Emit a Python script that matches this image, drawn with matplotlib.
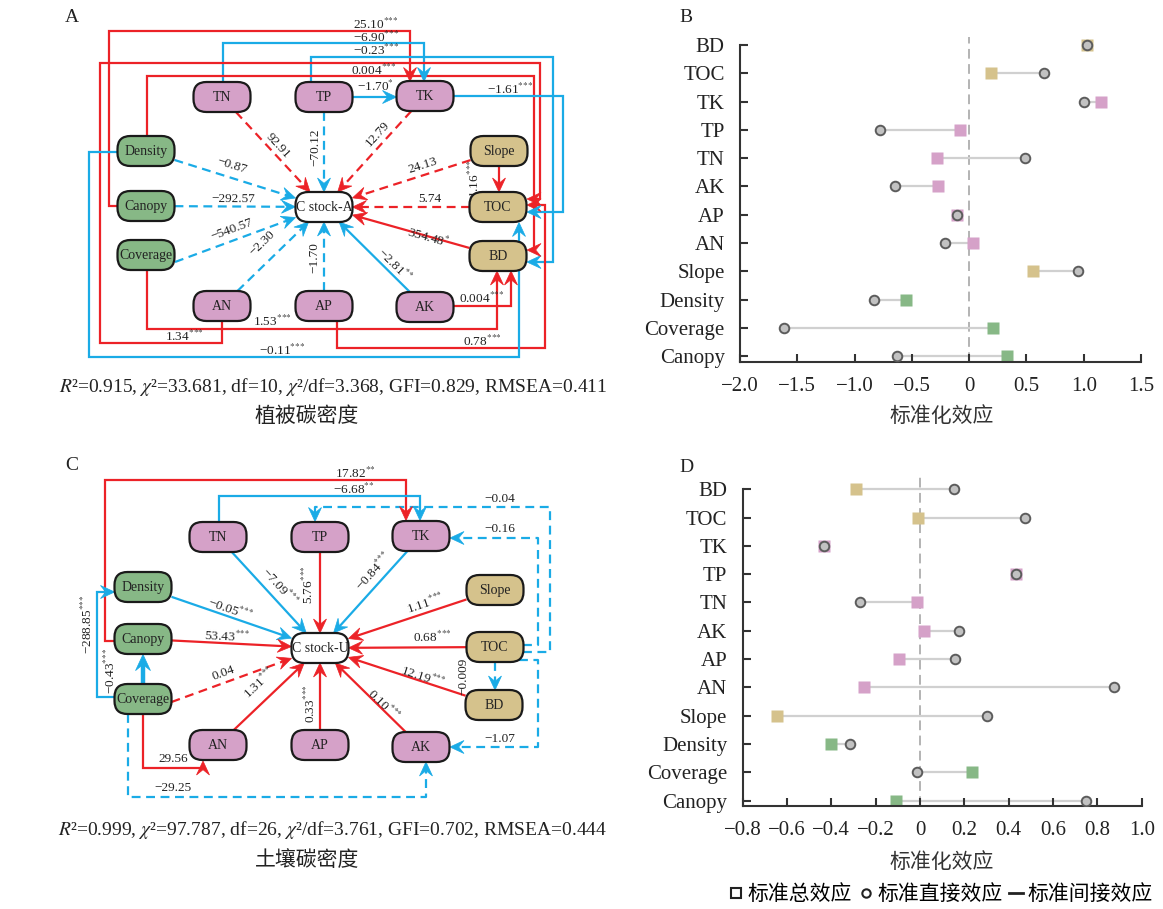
import numpy as np
import matplotlib
matplotlib.use('Agg')
import matplotlib.pyplot as plt
from matplotlib.patches import FancyBboxPatch, Polygon
from matplotlib.lines import Line2D

plt.rcParams['font.family'] = ['Liberation Serif', 'Noto Sans CJK SC']
plt.rcParams['mathtext.fontset'] = 'stix'

# ---------------- data: standardized effects (panels B, D) ----------------
factors = ['BD', 'TOC', 'TK', 'TP', 'TN', 'AK', 'AP', 'AN', 'Slope', 'Density', 'Coverage', 'Canopy']
factor_group = ['soil', 'soil', 'nutr', 'nutr', 'nutr', 'nutr', 'nutr', 'nutr', 'soil', 'veg', 'veg', 'veg']
B_total = [1.03, 0.19, 1.15, -0.08, -0.28, -0.27, -0.11, 0.035, 0.56, -0.55, 0.21, 0.33]
B_direct = [1.03, 0.65, 1.00, -0.78, 0.49, -0.65, -0.11, -0.21, 0.95, -0.83, -1.62, -0.63]
D_total = [-0.29, -0.01, -0.433, 0.433, -0.014, 0.018, -0.095, -0.253, -0.645, -0.40, 0.235, -0.108]
D_direct = [0.155, 0.475, -0.433, 0.433, -0.27, 0.174, 0.158, 0.875, 0.30, -0.316, -0.015, 0.75]
B_xticks = [-2.0, -1.5, -1.0, -0.5, 0, 0.5, 1.0, 1.5]
B_xticklabels = ['−2.0', '−1.5', '−1.0', '−0.5', '0', '0.5', '1.0', '1.5']
D_xticks = [-0.8, -0.6, -0.4, -0.2, 0, 0.2, 0.4, 0.6, 0.8, 1.0]
D_xticklabels = ['−0.8', '−0.6', '−0.4', '−0.2', '0', '0.2', '0.4', '0.6', '0.8', '1.0']
legend_labels = ['标准总效应', '标准直接效应', '标准间接效应']

# ---------------- data: path coefficients (panels A, C) ----------------
A_direct_src = ['TN', 'TP', 'TK', 'Density', 'Canopy', 'Coverage', 'AN', 'AP', 'AK', 'BD', 'TOC', 'Slope']
A_direct_coef = ['92.91', '−70.12', '12.79', '−0.87', '−292.57', '−540.57', '−2.30', '−1.70', '−2.81', '354.48', '5.74', '24.13']
A_direct_sig = ['', '', '', '', '', '', '', '', '**', '*', '', '']
A_other_src = ['Canopy', 'TN', 'TP', 'Density', 'AN', 'Coverage', 'AK', 'AP', 'TK', 'Density', 'TP', 'Slope']
A_other_dst = ['TK', 'TK', 'BD', 'BD', 'TOC', 'BD', 'BD', 'TOC', 'TOC', 'TOC', 'TK', 'TOC']
A_other_coef = ['25.10', '−6.90', '−0.23', '0.004', '1.34', '1.53', '0.004', '0.78', '−1.61', '−0.11', '−1.70', '1.16']
A_other_sig = ['***', '***', '***', '***', '***', '***', '***', '***', '***', '***', '*', '***']
A_other_dashed = [False] * 12
A_fit = r'$R$²=0.915, $\chi$²=33.681, df=10, $\chi$²/df=3.368, GFI=0.829, RMSEA=0.411'
A_title = '植被碳密度'

C_direct_src = ['TN', 'TP', 'TK', 'Density', 'Canopy', 'Coverage', 'AN', 'AP', 'AK', 'BD', 'TOC', 'Slope']
C_direct_coef = ['−7.09', '5.76', '−0.84', '−0.05', '53.43', '0.04', '1.31', '0.33', '0.10', '12.19', '0.68', '1.11']
C_direct_sig = ['***', '***', '***', '***', '***', '', '***', '***', '***', '***', '***', '***']
C_other_src = ['Canopy', 'TN', 'TOC', 'TOC', 'TOC', 'TOC', 'Coverage', 'Coverage', 'Coverage', 'Coverage']
C_other_dst = ['TK', 'TK', 'TP', 'TK', 'AK', 'BD', 'Canopy', 'Density', 'AN', 'AK']
C_other_coef = ['17.82', '−6.68', '−0.04', '−0.16', '−1.07', '−0.009', '−0.43', '−288.85', '29.56', '−29.25']
C_other_sig = ['**', '**', '', '', '', '', '***', '***', '', '']
C_other_dashed = [False, False, True, True, True, True, False, False, False, True]
C_fit = r'$R$²=0.999, $\chi$²=97.787, df=26, $\chi$²/df=3.761, GFI=0.702, RMSEA=0.444'
C_title = '土壤碳密度'

# ---------------- style ----------------
RED = '#ec2227'
BLUE = '#1aabe6'
GCOL = {'soil': '#d5c28c', 'nutr': '#d5a1c8', 'veg': '#87b886'}
NODE_GROUP = {'TN': 'nutr', 'TP': 'nutr', 'TK': 'nutr', 'AN': 'nutr', 'AP': 'nutr', 'AK': 'nutr',
              'Density': 'veg', 'Canopy': 'veg', 'Coverage': 'veg',
              'Slope': 'soil', 'TOC': 'soil', 'BD': 'soil'}
BW, BH = 57, 30
AL, AW = 14, 6.5
DASH = (0, (4, 2.5))
LABEL_FS = 9.5
NODE_FS = 10

fig = plt.figure(figsize=(11.63, 9.09), dpi=100, facecolor='white')
ax0 = fig.add_axes([0, 0, 1, 1])
ax0.set_xlim(0, 1163)
ax0.set_ylim(909, 0)
ax0.axis('off')


def stars(sig):
    if not sig:
        return ''
    return r'$^{' + ''.join('{*}' for _ in sig) + '}$'


def coef_color(coef):
    return RED if float(coef.replace('−', '-')) > 0 else BLUE


def text_angle(d):
    ang = np.degrees(np.arctan2(-d[1], d[0]))
    if ang > 90:
        ang -= 180
    if ang <= -90:
        ang += 180
    return ang


def clip_t(d, w, h):
    tx = (w / 2) / abs(d[0]) if abs(d[0]) > 1e-9 else np.inf
    ty = (h / 2) / abs(d[1]) if abs(d[1]) > 1e-9 else np.inf
    return min(tx, ty)


def arrowhead(ax, tip, u, color, scale=1.0):
    n = np.array([-u[1], u[0]])
    L, W = AL * scale, AW * scale
    pts = [tip, tip - L * u + W * n, tip - 0.62 * L * u, tip - L * u - W * n]
    ax.add_patch(Polygon(pts, closed=True, fc=color, ec=color, lw=0.5, zorder=4))


def poly_edge(ax, pts, color, dashed, lw=1.6, head_scale=1.0):
    pts = np.asarray(pts, float)
    tip, prev = pts[-1], pts[-2]
    u = (tip - prev) / np.linalg.norm(tip - prev)
    lp = pts.copy()
    lp[-1] = tip - u * AL * head_scale * 0.55
    ax.plot(lp[:, 0], lp[:, 1], color=color, lw=lw, ls=DASH if dashed else '-',
            solid_capstyle='butt', solid_joinstyle='miter', zorder=2)
    arrowhead(ax, tip, u, color, head_scale)


def draw_node(ax, xy, label, fc):
    cx, cy = xy
    ax.add_patch(FancyBboxPatch((cx - BW / 2, cy - BH / 2), BW, BH,
                                boxstyle='round,pad=0,rounding_size=13',
                                fc=fc, ec='#1a1a1a', lw=1.6, zorder=5))
    ax.text(cx, cy + 0.5, label, ha='center', va='center', fontsize=NODE_FS, color='#222222', zorder=6)


def draw_sem(ax, pos, center_label, d_src, d_coef, d_sig, d_lab, start_override,
             o_coef, o_sig, o_dashed, o_paths, o_lab, o_rot, o_lw):
    c = np.array(pos['C'], float)
    for src, coef, sig, lab in zip(d_src, d_coef, d_sig, d_lab):
        s = np.array(pos[src], float)
        if src in start_override:
            start = np.array(start_override[src], float)
        else:
            start = s + (c - s) * clip_t(c - s, BW, BH)
        d = c - start
        end = c - d * clip_t(d, BW, BH)
        poly_edge(ax, [start, end], coef_color(coef), sig == '')
        ax.text(lab[0], lab[1], coef + stars(sig), ha='center', va='center', fontsize=LABEL_FS,
                rotation=text_angle(d), rotation_mode='anchor', color='#222222', zorder=3)
    for coef, sig, dsh, path, lab, rot, lw in zip(o_coef, o_sig, o_dashed, o_paths, o_lab, o_rot, o_lw):
        poly_edge(ax, path, coef_color(coef), dsh, lw=lw, head_scale=1.0 if lw < 2 else 1.15)
        ax.text(lab[0], lab[1], coef + stars(sig), ha='center', va='center', fontsize=LABEL_FS,
                rotation=rot, rotation_mode='anchor', color='#222222', zorder=3)
    for name, xy in pos.items():
        if name == 'C':
            draw_node(ax, xy, center_label, 'white')
        else:
            draw_node(ax, xy, name, GCOL[NODE_GROUP[name]])


# ---------------- panel A layout ----------------
A_pos = {'TN': (222, 97), 'TP': (324, 97), 'TK': (425, 96), 'Density': (146, 151), 'Canopy': (146, 206),
         'Coverage': (146, 255), 'AN': (222, 306), 'AP': (324, 306), 'AK': (425, 307),
         'Slope': (499, 151), 'TOC': (498, 207), 'BD': (498, 256), 'C': (324, 207)}
A_dlab = [(278, 146), (315, 147), (378, 134), (232, 166), (233, 199), (232, 230),
          (262, 243), (314, 258), (394, 265), (428, 237), (430, 199), (423, 166)]
A_paths = [
    [(117.5, 206), (109, 206), (109, 31), (410, 31), (410, 81.5)],
    [(223, 82), (223, 43), (424, 43), (424, 81.5)],
    [(311, 82), (311, 57), (553, 57), (553, 262), (527, 262)],
    [(147, 136), (147, 76), (534, 76), (534, 250), (527, 250)],
    [(222, 321), (222, 343), (100, 343), (100, 63), (540, 63), (540, 199), (527, 199)],
    [(147, 270), (147, 329), (497, 329), (497, 271)],
    [(453.5, 306), (511, 306), (511, 271)],
    [(337, 321), (337, 348), (545, 348), (545, 205), (527, 205)],
    [(453.5, 96), (563, 96), (563, 212), (527, 212)],
    [(117.5, 152), (89, 152), (89, 357), (519, 357), (519, 222.5)],
    [(352.5, 97), (396.5, 97)],
    [(499, 166), (499, 192)],
]
A_olab = [(376, 24), (376, 37), (376, 50), (374, 70), (184, 336), (272, 321), (482, 298),
          (482, 341), (510, 89), (282, 350), (375, 86), (474, 179)]
A_orot = [0] * 11 + [90]
A_olw = [1.6] * 12
draw_sem(ax0, A_pos, 'C stock-A', A_direct_src, A_direct_coef, A_direct_sig, A_dlab,
         {'Coverage': (175, 262)}, A_other_coef, A_other_sig, A_other_dashed, A_paths,
         A_olab, A_orot, A_olw)

# ---------------- panel C layout ----------------
C_pos = {'TN': (218, 537), 'TP': (320, 537), 'TK': (421, 536), 'Density': (143, 587), 'Canopy': (143, 639),
         'Coverage': (143, 699), 'AN': (218, 745), 'AP': (320, 745), 'AK': (421, 747),
         'Slope': (495, 590), 'TOC': (495, 647), 'BD': (494, 705), 'C': (320, 648)}
C_dlab = [(279, 587), (308, 585), (374, 571), (230, 609), (227, 637), (223, 673),
          (259, 683), (310, 704), (383, 705), (423, 677), (432, 637), (425, 604)]
C_paths = [
    [(114.5, 641), (105, 641), (105, 480), (406, 480), (406, 520.5)],
    [(219, 522), (219, 496), (420, 496), (420, 520.5)],
    [(523, 652), (550, 652), (550, 507), (315, 507), (315, 521.5)],
    [(523, 645), (538, 645), (538, 538), (450, 538)],
    [(519, 660), (538, 660), (538, 747), (450, 747)],
    [(495, 662), (495, 690)],
    [(143, 684), (143, 654.5)],
    [(114.5, 697), (97, 697), (97, 592), (114.5, 592)],
    [(143, 714), (143, 768), (203, 768), (203, 761)],
    [(128, 714), (128, 797), (426, 797), (426, 762)],
]
C_olab = [(355, 473), (354, 489), (500, 499), (500, 529), (500, 739), (463, 676),
          (110, 671), (87, 624), (173, 759), (173, 788)]
C_orot = [0, 0, 0, 0, 0, 90, 90, 90, 0, 0]
C_olw = [1.6, 1.6, 1.6, 1.6, 1.6, 1.6, 3.2, 1.6, 1.6, 1.6]
draw_sem(ax0, C_pos, 'C stock-U', C_direct_src, C_direct_coef, C_direct_sig, C_dlab,
         {'Coverage': (171.5, 702)}, C_other_coef, C_other_sig, C_other_dashed, C_paths,
         C_olab, C_orot, C_olw)

# ---------------- texts ----------------
ax0.text(333, 387, A_fit, ha='center', va='center', fontsize=14, color='#222222')
ax0.text(307, 417, A_title, ha='center', va='center', fontsize=15, color='#222222')
ax0.text(333, 830, C_fit, ha='center', va='center', fontsize=14, color='#222222')
ax0.text(307, 861, C_title, ha='center', va='center', fontsize=15, color='#222222')
for lx, ly, lt in [(72, 17, 'A'), (686, 17, 'B'), (72, 466, 'C'), (686, 467, 'D')]:
    ax0.text(lx, ly, lt, ha='center', va='center', fontsize=14, color='#222222')
ax0.text(942, 417, '标准化效应', ha='center', va='center', fontsize=15, color='#333333')
ax0.text(942, 863, '标准化效应', ha='center', va='center', fontsize=15, color='#333333')


# ---------------- dot panels ----------------
def dot_panel(ax, total, direct, xlim, xticks, xticklabels, ylo, yhi):
    n = len(factors)
    ypos = np.arange(n)[::-1]
    ax.axvline(0, ymin=0, ymax=1, color='#b3b3b3', lw=1.4, ls=(0, (5, 2.8)), zorder=0)
    for y, t, d, g in zip(ypos, total, direct, factor_group):
        ax.plot([t, d], [y, y], color='#d0d0d0', lw=1.6, zorder=1, solid_capstyle='butt')
        ax.plot(t, y, marker='s', ms=9.2, color=GCOL[g], mec='none', ls='none', zorder=2)
        ax.plot(d, y, marker='o', ms=6.9, mfc='#c2c2c2', mec='#5c5c5c', mew=1.4, ls='none', zorder=3)
    ax.set_xlim(*xlim)
    ax.set_ylim(ylo, yhi)
    ax.set_yticks(ypos)
    ax.set_yticklabels(factors)
    ax.set_xticks(xticks)
    ax.set_xticklabels(xticklabels)
    for s in ['top', 'right']:
        ax.spines[s].set_visible(False)
    for s in ['left', 'bottom']:
        ax.spines[s].set_color('#333333')
        ax.spines[s].set_linewidth(1.5)
    ax.spines['left'].set_bounds(ylo, n - 1)
    ax.tick_params(axis='both', direction='in', length=6, width=1.5, color='#333333',
                   labelsize=15, labelcolor='#222222')
    ax.tick_params(axis='y', pad=11)
    ax.tick_params(axis='x', pad=11)
    ax.patch.set_visible(False)


axB = fig.add_axes([740 / 1163, 1 - 362 / 909, 401 / 1163, (362 - 36.5) / 909])
dot_panel(axB, B_total, B_direct, (-2.0, 1.5), B_xticks, B_xticklabels, -0.21, 11.3)
axD = fig.add_axes([742.7 / 1163, 1 - 805.7 / 909, 399 / 1163, (805.7 - 475.1) / 909])
dot_panel(axD, D_total, D_direct, (-0.8, 1.0), D_xticks, D_xticklabels, -0.18, 11.5)

handles = [Line2D([], [], marker='s', mfc='white', mec='#222222', mew=1.5, ms=7, ls='none'),
           Line2D([], [], marker='o', mfc='white', mec='#222222', mew=1.5, ms=6, ls='none'),
           Line2D([], [], color='#222222', lw=2)]
fig.legend(handles, legend_labels, loc='center', bbox_to_anchor=(941 / 1163, 1 - 895 / 909),
           ncol=3, frameon=False, fontsize=15, handlelength=0.7, handletextpad=0.2,
           columnspacing=0.3, borderaxespad=0)

fig.savefig('out.png', dpi=100, facecolor='white')
